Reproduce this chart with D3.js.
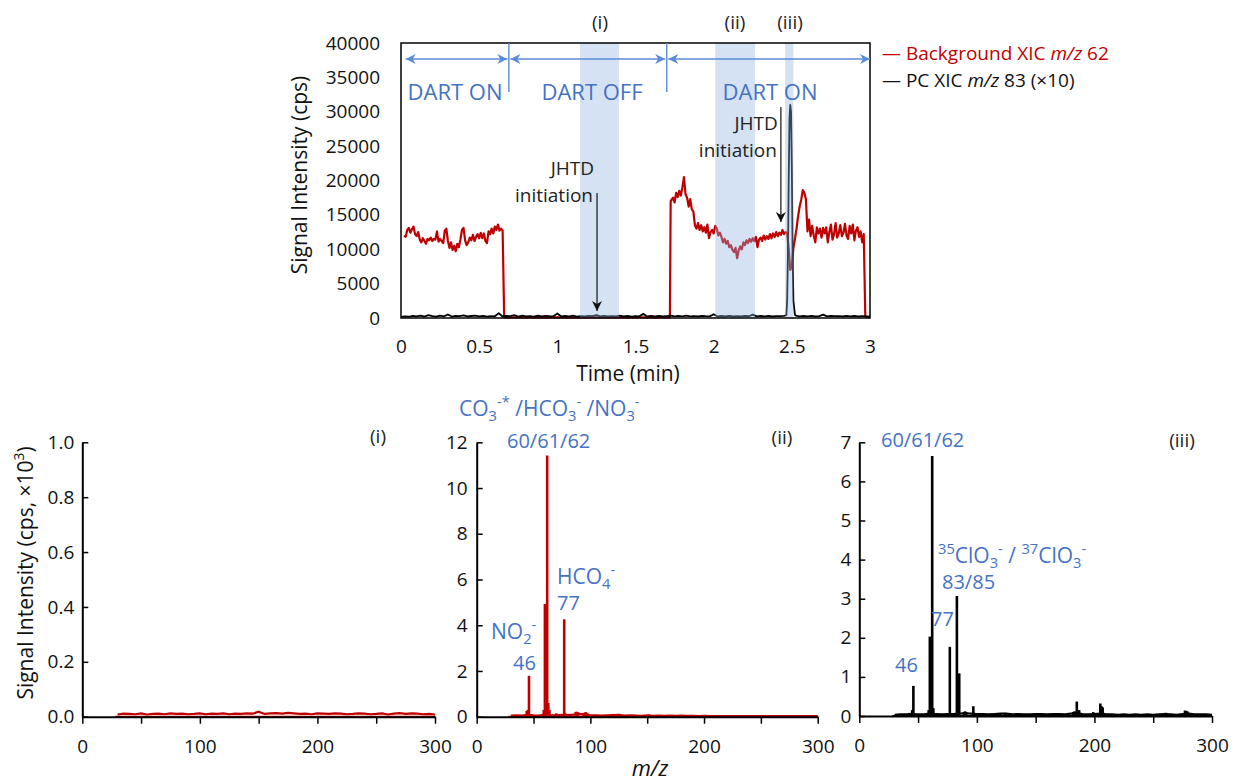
<!DOCTYPE html>
<html><head><meta charset="utf-8">
<script src="https://cdn.jsdelivr.net/npm/d3@7"></script>
<style>body{margin:0;background:#fff} svg{display:block} text{font-family:'Open Sans',sans-serif}</style>
</head><body><svg id="c" width="1236" height="782"></svg>
<script>
// ---------------- DATA ----------------
// Top: time-resolved XIC
const timeTicks = [0, 0.5, 1, 1.5, 2, 2.5, 3];
const timeTickLabels = ["0", "0.5", "1", "1.5", "2", "2.5", "3"];
const signalTicks = [0, 5000, 10000, 15000, 20000, 25000, 30000, 35000, 40000];
// Background XIC m/z 62 [time(min), cps]
const bgXic = [
[0.02,12000],[0.03,11800],[0.04,12800],[0.05,13100],[0.06,12400],[0.07,12900],[0.08,13300],[0.09,12200],[0.10,11900],
[0.11,12500],[0.12,11400],[0.13,11000],[0.14,11600],[0.15,11200],[0.16,10800],[0.17,11500],[0.18,11300],[0.19,11700],
[0.20,11200],[0.21,11500],[0.22,11400],[0.23,12600],[0.24,11100],[0.25,11500],[0.26,11200],[0.27,10900],[0.28,12700],
[0.29,13000],[0.30,11200],[0.31,10200],[0.32,11000],[0.33,9900],[0.34,10500],[0.35,9700],[0.36,10800],[0.37,10300],
[0.38,11400],[0.39,12800],[0.40,13100],[0.41,11300],[0.42,10600],[0.43,11000],[0.44,11700],[0.45,11300],[0.46,12100],
[0.47,11200],[0.48,11800],[0.49,12200],[0.50,11600],[0.51,12400],[0.52,11600],[0.53,12300],[0.54,11200],[0.55,10900],
[0.56,12600],[0.57,12200],[0.58,13000],[0.59,12300],[0.60,13300],[0.61,12800],[0.62,13600],[0.63,12700],[0.64,13000],
[0.65,12700],[0.66,100],[1.0,80],[1.4,100],[1.72,100],
[1.725,17000],[1.74,17500],[1.75,16800],[1.76,18200],[1.77,17600],[1.78,18500],[1.79,17800],[1.80,19000],[1.81,20500],
[1.82,18000],[1.83,17500],[1.84,16200],[1.85,17300],[1.86,15800],[1.87,15500],[1.88,13500],[1.89,13000],[1.90,13800],
[1.91,12800],[1.92,13500],[1.93,12600],[1.94,13200],[1.95,12400],[1.96,13600],[1.97,11600],[1.98,12500],[1.99,12800],
[2.00,12300],[2.01,13400],[2.02,13000],[2.03,12000],[2.04,12400],[2.05,11800],[2.06,11000],[2.07,11500],[2.08,10800],
[2.09,11200],[2.10,10300],[2.11,10600],[2.12,9900],[2.13,9600],[2.14,10200],[2.15,8700],[2.16,9800],[2.17,10400],
[2.18,10000],[2.19,11000],[2.20,10600],[2.21,11300],[2.22,10900],[2.23,11500],[2.24,11100],[2.25,11600],[2.26,11200],
[2.27,11800],[2.28,10300],[2.29,11400],[2.30,11700],[2.31,11200],[2.32,12000],[2.33,11400],[2.34,11900],[2.35,11500],
[2.36,12200],[2.37,11600],[2.38,12300],[2.39,11800],[2.40,12500],[2.41,11900],[2.42,12400],[2.43,12100],[2.44,12800],
[2.45,12200],[2.46,12500],[2.47,12300],[2.48,10000],[2.49,7000],[2.50,7500],[2.51,10200],[2.52,11500],[2.53,13000],
[2.54,14800],[2.55,16200],[2.56,17200],[2.57,18600],[2.58,18200],[2.59,17300],[2.60,12600],[2.61,14300],[2.62,11900],
[2.63,13400],[2.64,12000],[2.65,11000],[2.66,13200],[2.67,12300],[2.68,13000],[2.69,11700],[2.70,13100],[2.71,12300],
[2.72,13200],[2.73,11000],[2.74,12500],[2.75,13600],[2.76,11400],[2.77,12200],[2.78,13800],[2.79,11700],[2.80,12300],
[2.81,13500],[2.82,11900],[2.83,12400],[2.84,13700],[2.85,12000],[2.86,11500],[2.87,13400],[2.88,12300],[2.89,13600],
[2.90,11300],[2.91,12700],[2.92,13200],[2.93,11800],[2.94,12600],[2.95,11000],[2.96,12200],[2.97,200],[3.0,100]
];
// PC XIC m/z 83 (x10) [time(min), cps]
const pcXic = [
[0,150],[0.025,250],[0.05,180],[0.075,300],[0.1,220],[0.125,350],[0.15,200],[0.175,420],[0.2,260],[0.225,190],[0.25,330],
[0.275,240],[0.3,510],[0.325,210],[0.35,300],[0.375,260],[0.4,380],[0.425,220],[0.45,290],[0.475,350],[0.5,240],[0.525,310],
[0.55,200],[0.575,280],[0.6,250],[0.625,700],[0.65,220],[0.675,300],[0.7,260],[0.725,420],[0.75,200],[0.775,330],[0.8,240],
[0.825,280],[0.85,210],[0.875,350],[0.9,230],[0.925,300],[0.95,260],[0.975,240],[1.0,650],[1.025,220],[1.05,290],[1.075,250],
[1.1,330],[1.125,210],[1.15,280],[1.175,240],[1.2,310],[1.225,260],[1.25,420],[1.275,230],[1.3,300],[1.325,250],[1.35,280],
[1.375,220],[1.4,330],[1.425,250],[1.45,290],[1.475,210],[1.5,270],[1.525,240],[1.55,600],[1.575,230],[1.6,290],[1.625,250],
[1.65,310],[1.675,220],[1.7,280],[1.725,350],[1.75,230],[1.775,300],[1.8,250],[1.825,330],[1.85,240],[1.875,270],[1.9,220],
[1.925,300],[1.95,260],[1.975,240],[2.0,550],[2.025,230],[2.05,290],[2.075,250],[2.1,310],[2.125,220],[2.15,280],[2.175,240],
[2.2,300],[2.225,260],[2.25,500],[2.275,230],[2.3,290],[2.325,250],[2.35,310],[2.375,220],[2.4,280],[2.425,260],[2.45,300],
[2.465,400],[2.47,2500],[2.475,9000],[2.48,20000],[2.485,29000],[2.49,31000],[2.495,30000],[2.5,22000],[2.505,9000],[2.51,2500],
[2.52,450],[2.53,300],[2.55,240],[2.575,290],[2.6,250],[2.625,310],[2.65,220],[2.675,280],[2.7,500],[2.725,240],[2.75,300],
[2.775,260],[2.8,280],[2.825,230],[2.85,300],[2.875,250],[2.9,290],[2.925,220],[2.95,280],[2.975,250],[3.0,200]
];
const shadeStart = [1.145, 2.01, 2.457];
const shadeEnd = [1.395, 2.265, 2.51];
const shadeLabels = ["(i)", "(ii)", "(iii)"];
const dartStart = [0.03, 0.70, 1.71];
const dartEnd = [0.68, 1.69, 3.0];
const dartLabels = ["DART ON", "DART OFF", "DART ON"];
const dartDividers = [0.69, 1.70];
const jhtdTimes = [1.254, 2.43];

// Bottom: mass spectra (intensity in cps x10^3)
const mzTicks = [0, 50, 100, 150, 200, 250, 300];
const mzTickLabels = ["0", "", "100", "", "200", "", "300"];
const ticksI = [0, 0.2, 0.4, 0.6, 0.8, 1.0];
const ticksII = [0, 2, 4, 6, 8, 10, 12];
const ticksIII = [0, 1, 2, 3, 4, 5, 6, 7];
const baseMz = [30,35,40,45,50,55,60,65,70,75,80,85,90,95,100,105,110,115,120,125,130,135,140,145,150,155,160,165,170,175,180,185,190,195,200,205,210,215,220,225,230,235,240,245,250,255,260,265,270,275,280,285,290,295,300];
const baseI = [0.008,0.011,0.010,0.009,0.012,0.008,0.010,0.011,0.009,0.012,0.010,0.011,0.009,0.010,0.012,0.009,0.011,0.010,0.012,0.009,0.011,0.010,0.012,0.011,0.018,0.010,0.012,0.013,0.011,0.014,0.012,0.010,0.011,0.009,0.012,0.011,0.010,0.012,0.011,0.009,0.010,0.012,0.011,0.009,0.010,0.012,0.008,0.011,0.013,0.010,0.012,0.011,0.009,0.010,0.008];
const baseII = [0.05,0.06,0.05,0.08,0.06,0.05,0.10,0.07,0.06,0.08,0.07,0.09,0.12,0.10,0.07,0.06,0.05,0.06,0.07,0.08,0.05,0.06,0.05,0.04,0.06,0.04,0.05,0.04,0.05,0.04,0.05,0.04,0.04,0.03,0.04,0.03,0.03,0.03,0.03,0.03,0.03,0.03,0.03,0.03,0.03,0.03,0.03,0.03,0.03,0.03,0.03,0.03,0.03,0.03,0.03];
const baseIII = [0.03,0.04,0.04,0.05,0.04,0.04,0.06,0.05,0.04,0.05,0.05,0.06,0.07,0.06,0.05,0.05,0.04,0.05,0.06,0.06,0.04,0.05,0.04,0.04,0.05,0.05,0.04,0.05,0.05,0.04,0.06,0.07,0.05,0.04,0.05,0.06,0.04,0.04,0.03,0.04,0.03,0.04,0.03,0.04,0.03,0.04,0.05,0.04,0.03,0.05,0.06,0.04,0.04,0.04,0.03];
const peaksII = [[44,0.25],[45,0.3],[46,1.79],[59,0.3],[60,4.93],[61,4.9],[62,11.42],[63,0.6],[64,0.3],[70,0.15],[74,0.1],[77,4.26],[78,0.15],
  [87,0.2],[88,0.22],[89,0.2],[94,0.15],[95,0.18],[96,0.2],[97,0.15],[104,0.08],[110,0.06],[120,0.08],[124,0.1],[125,0.12],[134,0.06],[152,0.1],[170,0.05],[180,0.06]];
const peaksIII = [[43,0.08],[45,0.15],[46,0.77],[59,0.15],[60,2.03],[61,2.0],[62,6.65],[63,0.2],[77,1.77],[83,3.07],[85,1.09],[89,0.1],[90,0.12],[91,0.1],
  [97,0.25],[104,0.05],[120,0.06],[124,0.08],[136,0.05],[155,0.05],[168,0.05],[182,0.1],[183,0.12],[185,0.37],[186,0.15],[187,0.15],[199,0.1],
  [205,0.32],[206,0.25],[207,0.22],[208,0.08],[260,0.08],[261,0.08],[277,0.14],[278,0.13],[279,0.12],[280,0.08]];

// ---------------- DRAW ----------------
const RED = "#C00000", BLUE = "#4472C4", LBLUE = "#5B8BD6";
const svg = d3.select("#c");
const defs = svg.append("defs");
defs.append("marker").attr("id", "dartArr").attr("viewBox", "0 0 10 10").attr("refX", 10).attr("refY", 5)
  .attr("markerUnits", "userSpaceOnUse").attr("markerWidth", 12).attr("markerHeight", 10).attr("orient", "auto-start-reverse")
  .append("path").attr("d", "M0,0 L10,5 L0,10 L3,5 Z").attr("fill", LBLUE);
defs.append("marker").attr("id", "blkArr").attr("viewBox", "0 0 10 10").attr("refX", 10).attr("refY", 5)
  .attr("markerUnits", "userSpaceOnUse").attr("markerWidth", 12).attr("markerHeight", 10).attr("orient", "auto")
  .append("path").attr("d", "M0,0 L10,5 L0,10 L3,5 Z").attr("fill", "#111");

function rich(g, x, y, parts, fs, color, anchor, subScale) {
  const sc = subScale || 0.65;
  const t = g.append("text").attr("x", x).attr("y", y).attr("font-size", fs).attr("fill", color)
    .attr("text-anchor", anchor || "start");
  let cur = 0;
  parts.forEach(([s, k]) => {
    const shift = k === "sub" ? fs * 0.22 : k === "sup" ? -fs * 0.42 : 0;
    const ts = t.append("tspan").attr("dy", shift - cur).text(s);
    if (k === "sub" || k === "sup") ts.attr("font-size", fs * sc);
    if (k === "i") ts.attr("font-style", "italic");
    cur = shift;
  });
  return t;
}

// ----- top chart -----
const xT = d3.scaleLinear().domain([0, 3]).range([401, 870]);
const yT = d3.scaleLinear().domain([0, 40000]).range([318, 43]);
const topG = svg.append("g");

const line = d3.line().x(d => xT(d[0])).y(d => yT(d[1]));
topG.append("path").datum(bgXic).attr("d", line).attr("fill", "none").attr("stroke", RED).attr("stroke-width", 2.2).attr("stroke-linejoin", "round");
topG.append("path").datum(pcXic).attr("d", line).attr("fill", "none").attr("stroke", "#000").attr("stroke-width", 1.8).attr("stroke-linejoin", "round");

// shaded windows
topG.selectAll("rect.shade").data(shadeStart).join("rect").attr("class", "shade")
  .attr("x", (d) => xT(d)).attr("width", (d, i) => xT(shadeEnd[i]) - xT(d))
  .attr("y", yT(40000)).attr("height", yT(0) - yT(40000))
  .attr("fill", "#8FB4E3").attr("fill-opacity", 0.38);
topG.selectAll("text.sl").data(shadeLabels).join("text").attr("class", "sl")
  .attr("x", (d, i) => [600, 735, 790][i]).attr("y", 29).attr("text-anchor", "middle")
  .attr("font-size", 19).attr("fill", "#222").text(d => d);

// frame
topG.append("rect").attr("x", xT(0)).attr("y", yT(40000)).attr("width", xT(3) - xT(0)).attr("height", yT(0) - yT(40000))
  .attr("fill", "none").attr("stroke", "#000").attr("stroke-width", 1.5);

// axes
const yAx = topG.append("g").attr("transform", `translate(${xT(0)},0)`)
  .call(d3.axisLeft(yT).tickValues(signalTicks).tickSize(0).tickPadding(21).tickFormat(d3.format("d")));
const xAx = topG.append("g").attr("transform", `translate(0,${yT(0)})`)
  .call(d3.axisBottom(xT).tickValues(timeTicks).tickSize(0).tickPadding(22).tickFormat((d, i) => timeTickLabels[i]));
[yAx, xAx].forEach(a => { a.select(".domain").remove(); a.selectAll("text").attr("font-size", 19).attr("fill", "#111").style("font-family", "'Open Sans',sans-serif"); });

topG.append("text").attr("x", 628).attr("y", 381).attr("text-anchor", "middle").attr("font-size", 21).attr("fill", "#111").text("Time (min)");
topG.append("text").attr("transform", "translate(307,175) rotate(-90)").attr("text-anchor", "middle").attr("font-size", 21).attr("fill", "#111").text("Signal Intensity (cps)");

// DART arrows
topG.selectAll("line.dart").data(dartStart).join("line").attr("class", "dart")
  .attr("x1", d => xT(d)).attr("x2", (d, i) => xT(dartEnd[i])).attr("y1", 59).attr("y2", 59)
  .attr("stroke", LBLUE).attr("stroke-width", 1.4)
  .attr("marker-start", "url(#dartArr)").attr("marker-end", "url(#dartArr)");
topG.selectAll("line.div").data(dartDividers).join("line").attr("class", "div")
  .attr("x1", d => xT(d)).attr("x2", d => xT(d)).attr("y1", 43).attr("y2", 92)
  .attr("stroke", LBLUE).attr("stroke-width", 1.4);
topG.selectAll("text.dl").data(dartLabels).join("text").attr("class", "dl")
  .attr("x", (d, i) => [455, 592, 770][i]).attr("y", 100).attr("text-anchor", "middle")
  .attr("font-size", 22).attr("fill", BLUE).text(d => d);

// JHTD annotations
const jh = [{ t: jhtdTimes[0], y1: 193, y2: 311, ty: 175 }, { t: jhtdTimes[1], y1: 107, y2: 222, ty: 130 }];
jh.forEach(a => {
  topG.append("line").attr("x1", xT(a.t)).attr("x2", xT(a.t)).attr("y1", a.y1).attr("y2", a.y2)
    .attr("stroke", "#111").attr("stroke-width", 1.2).attr("marker-end", "url(#blkArr)");
  topG.append("text").attr("x", xT(a.t) - 3).attr("y", a.ty).attr("text-anchor", "end").attr("font-size", 19).attr("fill", "#222").text("JHTD");
  topG.append("text").attr("x", xT(a.t) - 4).attr("y", a.ty + 27).attr("text-anchor", "end").attr("font-size", 19).attr("fill", "#222").text("initiation");
});

// legend
rich(topG, 882, 60, [["— Background XIC ", ""], ["m/z", "i"], [" 62", ""]], 19, RED);
rich(topG, 882, 87, [["— PC XIC ", ""], ["m/z", "i"], [" 83 (×10)", ""]], 19, "#111");

// ----- bottom spectra -----
function panel(x0, x1, yTop, y0, yMax, ticks, fmt, pad, baseVals, peaks, color) {
  const g = svg.append("g");
  const sx = d3.scaleLinear().domain([0, 300]).range([x0, x1]);
  const sy = d3.scaleLinear().domain([0, yMax]).range([y0, yTop]);
  const bl = d3.line().x((d, i) => sx(baseMz[i])).y(d => sy(d));
  g.append("path").datum(baseVals).attr("d", bl).attr("fill", "none").attr("stroke", color).attr("stroke-width", 2.2);
  g.append("line").attr("x1", sx(28)).attr("x2", sx(300)).attr("y1", sy(0)).attr("y2", sy(0)).attr("stroke", color).attr("stroke-width", 2);
  if (peaks) g.selectAll("line.pk").data(peaks).join("line").attr("class", "pk")
    .attr("x1", d => sx(d[0])).attr("x2", d => sx(d[0])).attr("y1", sy(0)).attr("y2", d => sy(d[1]))
    .attr("stroke", color).attr("stroke-width", 2.6);
  const ya = g.append("g").attr("transform", `translate(${x0},0)`)
    .call(d3.axisLeft(sy).tickValues(ticks).tickSizeInner(-6).tickSizeOuter(0).tickPadding(pad).tickFormat(fmt));
  const xa = g.append("g").attr("transform", `translate(0,${y0})`)
    .call(d3.axisBottom(sx).tickValues(mzTicks).tickSizeInner(7).tickSizeOuter(0).tickPadding(16).tickFormat((d, i) => mzTickLabels[i]));
  [ya, xa].forEach(a => {
    a.select(".domain").attr("stroke", "#000").attr("stroke-width", 2);
    a.selectAll(".tick line").attr("stroke", "#000").attr("stroke-width", 1.5);
    a.selectAll("text").attr("font-size", 19).attr("fill", "#111").style("font-family", "'Open Sans',sans-serif");
  });
  return { g, sx, sy };
}
const pI = panel(82.3, 435, 442.3, 716.7, 1, ticksI, d3.format(".1f"), 8, baseI, null, RED);
const pII = panel(476.7, 817.7, 442.3, 716.7, 12, ticksII, d3.format("d"), 9, baseII, peaksII, RED);
const pIII = panel(859.3, 1212, 442.3, 716, 7, ticksIII, d3.format("d"), 8, baseIII, peaksIII, "#000");

// panel labels
[[378, 443, "(i)"], [782, 444, "(ii)"], [1182, 447, "(iii)"]].forEach(([px, py, s]) =>
  svg.append("text").attr("x", px).attr("y", py).attr("text-anchor", "middle").attr("font-size", 19).attr("fill", "#222").text(s));

// annotations panel (ii)
rich(svg, 459, 416, [["CO", ""], ["3", "sub"], ["-*", "sup"], [" /HCO", ""], ["3", "sub"], ["-", "sup"], [" /NO", ""], ["3", "sub"], ["-", "sup"]], 21, BLUE, "start", 0.7);
rich(svg, 507, 448, [["60/61/62", ""]], 20, BLUE);
rich(svg, 557, 584, [["HCO", ""], ["4", "sub"], ["-", "sup"]], 21, BLUE, "start", 0.7);
rich(svg, 557, 610, [["77", ""]], 20, BLUE);
rich(svg, 491, 639, [["NO", ""], ["2", "sub"], ["-", "sup"]], 21, BLUE, "start", 0.7);
rich(svg, 513, 670, [["46", ""]], 20, BLUE);
// annotations panel (iii)
rich(svg, 881, 447, [["60/61/62", ""]], 20, BLUE);
rich(svg, 938, 563, [["35", "sup"], ["ClO", ""], ["3", "sub"], ["-", "sup"], ["  /  ", ""], ["37", "sup"], ["ClO", ""], ["3", "sub"], ["-", "sup"]], 21, BLUE, "start", 0.7);
rich(svg, 942, 589, [["83/85", ""]], 20, BLUE);
rich(svg, 931, 626, [["77", ""]], 20, BLUE);
rich(svg, 895, 672, [["46", ""]], 20, BLUE);

// bottom axis titles
rich(svg, 0, 0, [["Signal Intensity (cps, ×10", ""], ["3", "sup"], [")", ""]], 21, "#111", "middle")
  .attr("transform", "translate(33,573) rotate(-90)");
svg.append("text").attr("x", 650).attr("y", 776).attr("text-anchor", "middle").attr("font-size", 22)
  .attr("font-style", "italic").attr("fill", "#111").text("m/z");
</script></body></html>
